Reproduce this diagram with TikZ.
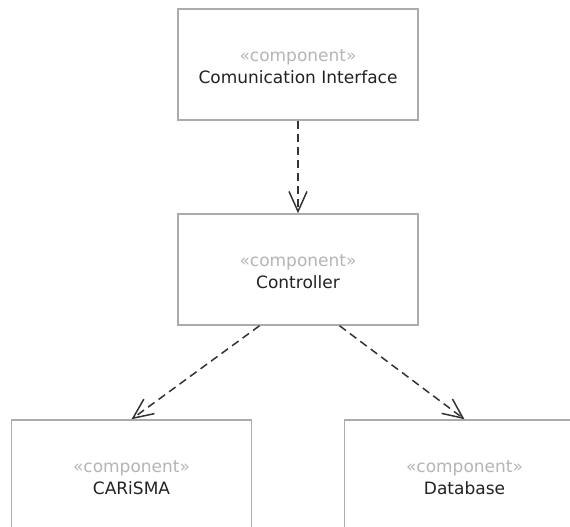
\documentclass[tikz,border=0pt]{standalone}
\usepackage{fontspec}
\setmainfont{DejaVu Sans}
\usetikzlibrary{arrows.meta}
\definecolor{boxgray}{HTML}{ABABAB}
\definecolor{stereogray}{HTML}{B5B5B5}
\definecolor{namegray}{HTML}{222222}
\definecolor{linegray}{HTML}{333333}
\newcommand{\stereotag}{\rule{0pt}{17pt}{\color{stereogray}«component»}}

\begin{document}
\begin{tikzpicture}[x=1pt,y=-1pt]
\clip (0,0) rectangle (570,527);
\fill[white] (0,0) rectangle (570,527);
\begin{scope}[every node/.style={rectangle,draw=boxgray,line width=1.5pt,
              minimum width=240pt,minimum height=111pt,align=center,
              text=namegray,font=\fontsize{17pt}{22pt}\selectfont}]
    \node (Comm) at (298.0, 64.5) {\stereotag\\Comunication Interface};
    \node (Ctrl) at (298.0, 269.5) {\stereotag\\Controller};
    \node (CARiSMA) at (131.5, 475.5) {\stereotag\\CARiSMA};
    \node (Database) at (464.5, 475.5) {\stereotag\\Database};
\end{scope}
\begin{scope}[>={Straight Barb[length=20pt,width=18pt,line width=1.5pt]},
              dep_edge/.style={draw=linegray,line width=1.5pt,dash pattern=on 8pt off 5pt}]
    \path [->] (Comm) edge [dep_edge] (Ctrl);
    \path [->] ([xshift=-38.5pt]Ctrl.south) edge [dep_edge] (CARiSMA.north);
    \path [->] ([xshift=41.5pt]Ctrl.south) edge [dep_edge] (Database.north);
\end{scope}
\end{tikzpicture}
\end{document}
